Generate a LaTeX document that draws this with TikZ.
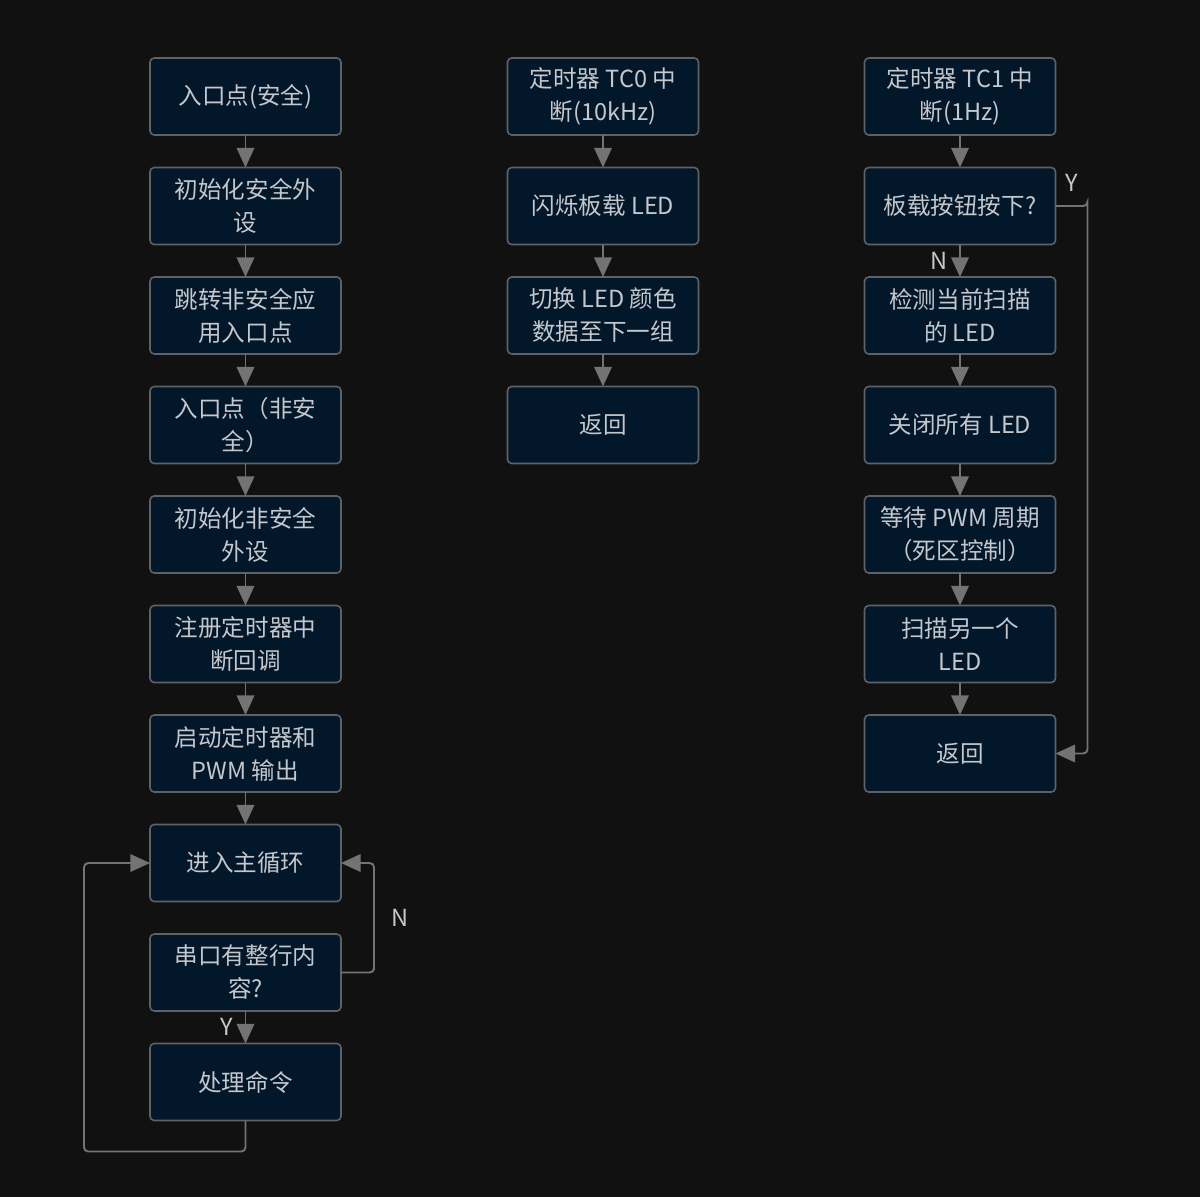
\documentclass[tikz,border=0pt]{standalone}
\usepackage{fontspec}
\setmainfont{Noto Sans CJK SC}
\usepackage{tikz}
\usetikzlibrary{arrows.meta, positioning, calc}
\definecolor{C_BG}{HTML}{111111}
\definecolor{C_BOX}{HTML}{03172B}
\definecolor{C_EDGE}{HTML}{5E6166}
\definecolor{C_TXT}{HTML}{C4C7CC}
\definecolor{C_ARR}{HTML}{737373}

\begin{document}
\begin{tikzpicture}[
  node distance=0.325cm,
  stepbox/.style={draw=C_EDGE, line width=0.45pt, rounded corners=1.2pt, fill=C_BOX,
                  minimum width=1.91cm, minimum height=0.77cm, inner sep=1pt, outer sep=0pt,
                  text=C_TXT, align=center, font=\fontsize{6.7}{9.4}\selectfont},
  lbl/.style={text=C_TXT, font=\fontsize{6.7}{9.4}\selectfont},
  flow/.style={-{Triangle[length=5.6pt, width=5pt]}, line width=0.55pt, color=C_ARR},
  loop/.style={flow, rounded corners=1.2pt},
]
%% Canvas
\fill[C_BG] (0,0) rectangle (12,-11.97);
\useasboundingbox (0,0) rectangle (12,-11.97);

%% Main program (left column)
\node[stepbox] at (2.455,-0.965) (entry)  {入口点(安全)};
\node[stepbox, below=of entry]    (initS)  {初始化安全外\\设};
\node[stepbox, below=of initS]    (jump)   {跳转非安全应\\用入口点};
\node[stepbox, below=of jump]     (entryN) {入口点（非安\\全）};
\node[stepbox, below=of entryN]   (initN)  {初始化非安全\\外设};
\node[stepbox, below=of initN]    (reg)    {注册定时器中\\断回调};
\node[stepbox, below=of reg]      (start)  {启动定时器和\\PWM 输出};
\node[stepbox, below=of start]    (mainlp) {进入主循环};
\node[stepbox, below=of mainlp]   (uart)   {串口有整行内\\容?};
\node[stepbox, below=of uart]     (cmd)    {处理命令};

%% TC0 interrupt (middle column)
\node[stepbox] at (6.03,-0.965) (tc0)    {定时器 TC0 中\\断(10kHz)};
\node[stepbox, below=of tc0]      (blink)  {闪烁板载 LED};
\node[stepbox, below=of blink]    (swap)   {切换 LED 颜色\\数据至下一组};
\node[stepbox, below=of swap]     (ret0)   {返回};

%% TC1 interrupt (right column)
\node[stepbox] at (9.60,-0.965) (tc1)    {定时器 TC1 中\\断(1Hz)};
\node[stepbox, below=of tc1]      (btn)    {板载按钮按下?};
\node[stepbox, below=of btn]      (detect) {检测当前扫描\\的 LED};
\node[stepbox, below=of detect]   (off)    {关闭所有 LED};
\node[stepbox, below=of off]      (wait)   {等待 PWM 周期\\（死区控制）};
\node[stepbox, below=of wait]     (scan)   {扫描另一个\\LED};
\node[stepbox, below=of scan]     (ret1)   {返回};

%% Straight arrows
\foreach \a/\b in {entry/initS, initS/jump, jump/entryN, entryN/initN, initN/reg,
                   reg/start, start/mainlp, tc0/blink, blink/swap, swap/ret0,
                   tc1/btn, detect/off, off/wait, wait/scan, scan/ret1}
  \draw[flow] (\a) -- (\b);

\draw[flow] (uart) -- node[lbl, left=0pt] {Y} (cmd);
\draw[flow] (btn) -- node[lbl, left=0pt] {N} (detect);

%% Loops
\draw[loop] (uart.east) -| ($(uart.east)+(0.33,0)$) |- node[lbl, pos=0.25, right=1.5pt] {N} (mainlp.east);
\draw[loop] (cmd.south) |- ($(cmd.south)+(-1.615,-0.31)$) |- (mainlp.west);
\draw[loop] (btn.east) -| ($(btn.east)+(0.32,0)$) |- (ret1.east);
\node[lbl] at (10.72,-1.83) (ylbl) {Y};

\end{tikzpicture}
\end{document}
